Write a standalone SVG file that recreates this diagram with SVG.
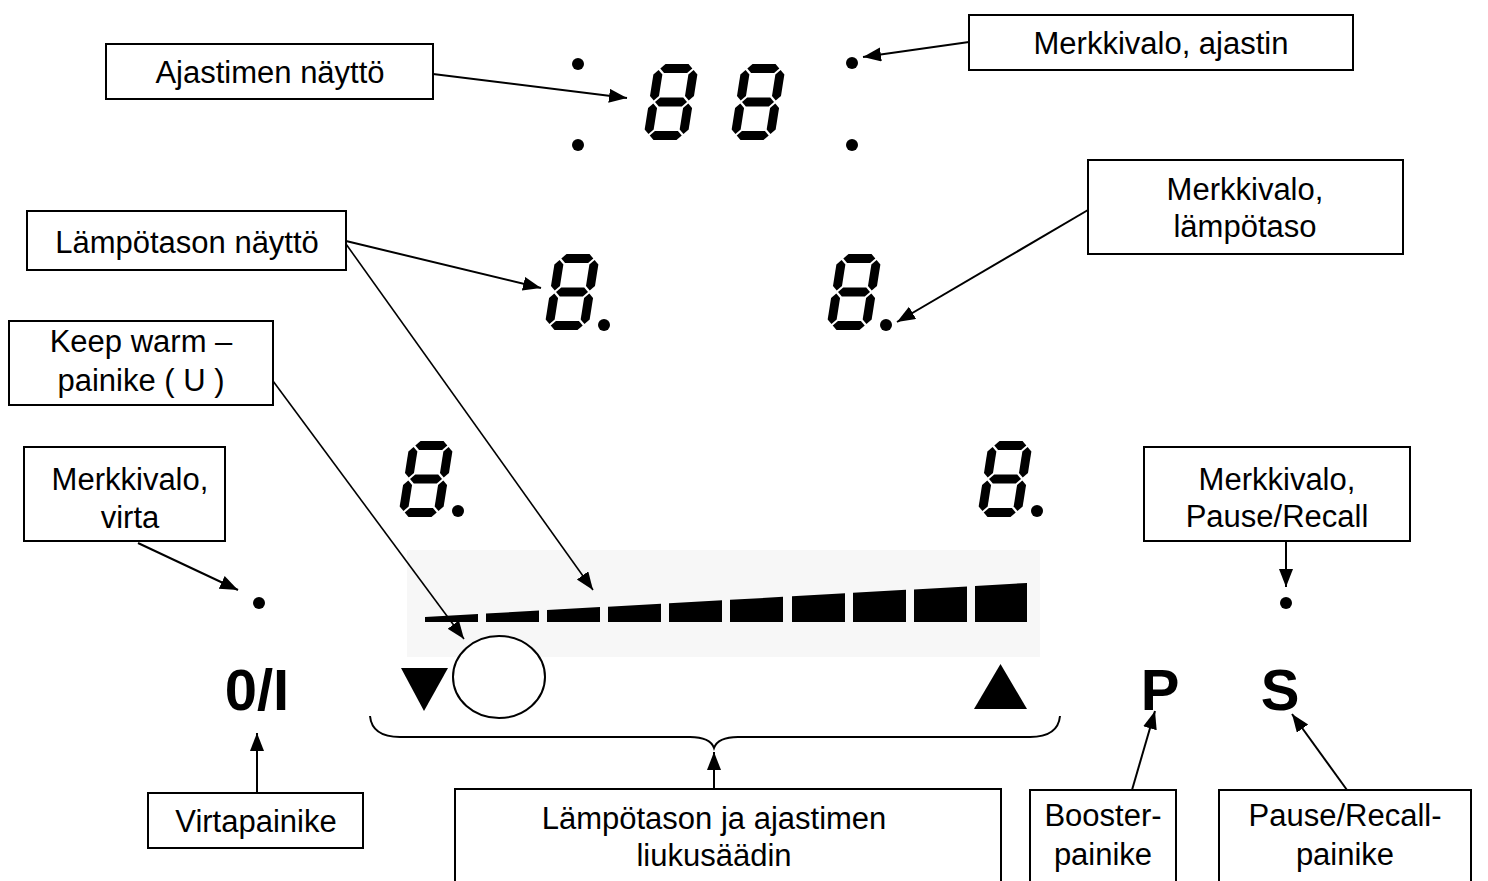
<svg xmlns="http://www.w3.org/2000/svg" xmlns:xlink="http://www.w3.org/1999/xlink" width="1488" height="881" viewBox="0 0 1488 881">
<style>
.box{fill:#fff;stroke:#000;stroke-width:2}
.t{font-family:"Liberation Sans",Arial,sans-serif;font-size:31px;fill:#000;text-anchor:middle}
.b{font-family:"Liberation Sans",Arial,sans-serif;font-weight:bold;font-size:58px;fill:#000;text-anchor:middle}
.ln{fill:none;stroke:#000;stroke-width:2}
.thin{fill:none;stroke:#000;stroke-width:1.6}
.dot{fill:#000}
</style>
<defs>
<marker id="ah" markerUnits="userSpaceOnUse" markerWidth="20" markerHeight="16" refX="18" refY="7" orient="auto">
<path d="M0,0 L18,7 L0,14 z" fill="#000"/>
</marker>
<g id="seg8">
<polygon points="6,4.5 10.5,0 33.5,0 38,4.5 33.5,9 10.5,9"/>
<polygon points="6,38 10.5,33.5 33.5,33.5 38,38 33.5,42.5 10.5,42.5"/>
<polygon points="6,71.5 10.5,67 33.5,67 38,71.5 33.5,76 10.5,76"/>
<polygon points="4.5,6 9,10.5 9,32 4.5,36.5 0,32 0,10.5"/>
<polygon points="39.5,6 44,10.5 44,32 39.5,36.5 35,32 35,10.5"/>
<polygon points="4.5,39.5 9,44 9,65.5 4.5,70 0,65.5 0,44"/>
<polygon points="39.5,39.5 44,44 44,65.5 39.5,70 35,65.5 35,44"/>
</g>
</defs>
<rect width="1488" height="881" fill="#fff"/>

<g id="timer-display">
<circle class="dot" cx="578" cy="64" r="6"/>
<circle class="dot" cx="578" cy="145" r="6"/>
<use xlink:href="#seg8" transform="translate(643,140) skewX(-9) translate(0,-76)"/>
<use xlink:href="#seg8" transform="translate(730,140) skewX(-9) translate(0,-76)"/>
<circle class="dot" cx="852" cy="63" r="6"/>
<circle class="dot" cx="852" cy="145" r="6"/>
</g>

<g id="heat-displays">
<use xlink:href="#seg8" transform="translate(544,330) skewX(-9) translate(0,-76)"/>
<circle class="dot" cx="604" cy="325" r="6"/>
<use xlink:href="#seg8" transform="translate(826,330) skewX(-9) translate(0,-76)"/>
<circle class="dot" cx="886" cy="325" r="6"/>
<use xlink:href="#seg8" transform="translate(398,517) skewX(-9) translate(0,-76)"/>
<circle class="dot" cx="458" cy="511" r="6"/>
<use xlink:href="#seg8" transform="translate(977,517) skewX(-9) translate(0,-76)"/>
<circle class="dot" cx="1037" cy="511" r="6"/>
</g>

<g id="slider">
<rect x="407" y="550" width="633" height="107" fill="#f7f7f7"/>
<polygon points="425,617.0 478,614.0 478,622 425,622"/>
<polygon points="486,613.6 539,610.6 539,622 486,622"/>
<polygon points="547,610.1 600,607.1 600,622 547,622"/>
<polygon points="608,606.7 661,603.7 661,622 608,622"/>
<polygon points="669,603.2 722,600.2 722,622 669,622"/>
<polygon points="730,599.8 783,596.8 783,622 730,622"/>
<polygon points="792,596.3 845,593.3 845,622 792,622"/>
<polygon points="853,592.8 906,589.8 906,622 853,622"/>
<polygon points="914,589.4 967,586.4 967,622 914,622"/>
<polygon points="975,585.9 1027,583.0 1027,622 975,622"/>
<polygon points="401,668 448,668 424,711"/>
<ellipse cx="499" cy="677" rx="46" ry="41" fill="#fff" stroke="#000" stroke-width="2"/>
<polygon points="974,709 1027,709 1000.5,664"/>
</g>

<g id="power-light"><circle class="dot" cx="259" cy="603" r="6"/></g>
<g id="power-button"><text class="b" x="257" y="710">0/I</text></g>
<g id="booster-button"><text class="b" x="1160" y="710">P</text></g>
<g id="pause-button"><text class="b" x="1280" y="710">S</text></g>
<g id="pause-light"><circle class="dot" cx="1286" cy="603" r="6"/></g>

<g id="label-ajastimen-naytto">
<rect class="box" x="106" y="44" width="327" height="55"/>
<text class="t" x="270" y="83">Ajastimen näyttö</text>
</g>
<g id="label-merkkivalo-ajastin">
<rect class="box" x="969" y="15" width="384" height="55"/>
<text class="t" x="1161" y="54">Merkkivalo, ajastin</text>
</g>
<g id="label-lampotason-naytto">
<rect class="box" x="27" y="211" width="319" height="59"/>
<text class="t" x="187" y="253">Lämpötason näyttö</text>
</g>
<g id="label-merkkivalo-lampotaso">
<rect class="box" x="1088" y="160" width="315" height="94"/>
<text class="t" x="1245" y="200">Merkkivalo,</text>
<text class="t" x="1245" y="237">lämpötaso</text>
</g>
<g id="label-keep-warm">
<rect class="box" x="9" y="321" width="264" height="84"/>
<text class="t" x="141" y="352">Keep warm –</text>
<text class="t" x="141" y="391">painike ( U )</text>
</g>
<g id="label-merkkivalo-virta">
<rect class="box" x="24" y="447" width="201" height="94"/>
<text class="t" x="130" y="490">Merkkivalo,</text>
<text class="t" x="130" y="528">virta</text>
</g>
<g id="label-merkkivalo-pause">
<rect class="box" x="1144" y="447" width="266" height="94"/>
<text class="t" x="1277" y="490">Merkkivalo,</text>
<text class="t" x="1277" y="527">Pause/Recall</text>
</g>
<g id="label-virtapainike">
<rect class="box" x="148" y="793" width="215" height="55"/>
<text class="t" x="256" y="832">Virtapainike</text>
</g>
<g id="label-liukusaadin">
<rect class="box" x="455" y="789" width="546" height="100"/>
<text class="t" x="714" y="829">Lämpötason ja ajastimen</text>
<text class="t" x="714" y="866">liukusäädin</text>
</g>
<g id="label-booster">
<rect class="box" x="1030" y="790" width="146" height="100"/>
<text class="t" x="1103" y="826">Booster-</text>
<text class="t" x="1103" y="865">painike</text>
</g>
<g id="label-pause-recall">
<rect class="box" x="1219" y="790" width="252" height="100"/>
<text class="t" x="1345" y="826">Pause/Recall-</text>
<text class="t" x="1345" y="865">painike</text>
</g>

<g id="connectors">
<line class="ln" x1="433" y1="74" x2="627" y2="98" marker-end="url(#ah)"/>
<line class="ln" x1="969" y1="42" x2="863" y2="57" marker-end="url(#ah)"/>
<line class="ln" x1="346" y1="241" x2="541" y2="288" marker-end="url(#ah)"/>
<line class="thin" x1="346" y1="244" x2="593" y2="590" marker-end="url(#ah)"/>
<line class="ln" x1="1088" y1="210" x2="897" y2="322" marker-end="url(#ah)"/>
<line class="thin" x1="273" y1="381" x2="464" y2="639" marker-end="url(#ah)"/>
<line class="ln" x1="138" y1="543" x2="238" y2="590" marker-end="url(#ah)"/>
<line class="ln" x1="1286" y1="541" x2="1286" y2="587" marker-end="url(#ah)"/>
<line class="ln" x1="257" y1="793" x2="257" y2="733" marker-end="url(#ah)"/>
<path class="ln" d="M370,716 Q372,737 400,737 L690,737 Q710,737 714,748 Q718,737 738,737 L1030,737 Q1058,737 1060,716"/>
<line class="ln" x1="714" y1="789" x2="714" y2="752" marker-end="url(#ah)"/>
<line class="ln" x1="1132" y1="790" x2="1155" y2="711" marker-end="url(#ah)"/>
<line class="ln" x1="1347" y1="790" x2="1292" y2="714" marker-end="url(#ah)"/>
</g>
</svg>
